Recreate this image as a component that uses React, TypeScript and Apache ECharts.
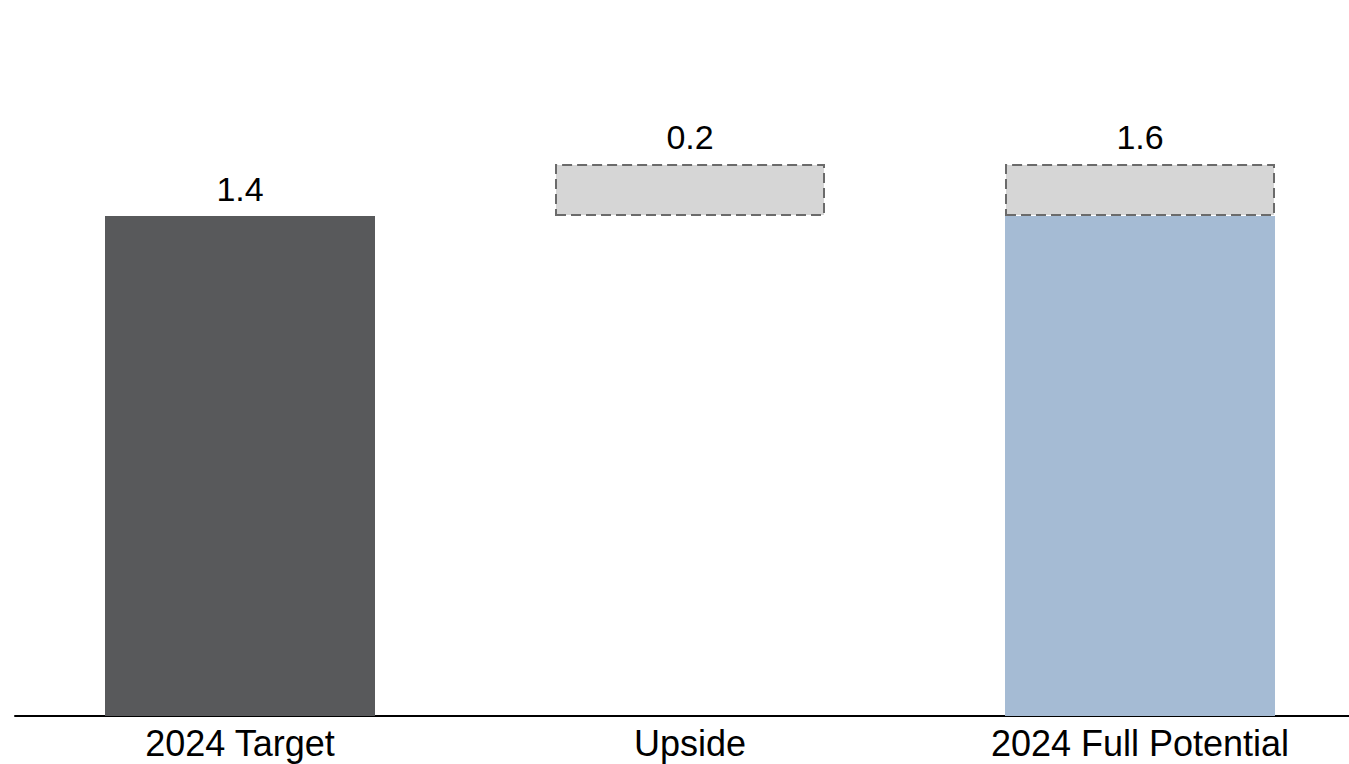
import React, { useEffect, useRef } from "react";
import * as echarts from "echarts";

const categories = ["2024 Target", "Upside", "2024 Full Potential"];
// base portion of each bar (Upside uses an invisible base)
const baseValues = [1.449, 1.449, 1.449];
// dashed upside portion
const upsideValues: (number | string)[] = ["-", 0.151, 0.151];
const baseColors = ["#58595b", "transparent", "#a5bbd4"];
const baseLabelShown = [true, false, false];

const FONT = "'Liberation Sans', Arial, Helvetica, sans-serif";

export default function App() {
  const ref = useRef<HTMLDivElement>(null);
  useEffect(() => {
    if (!ref.current) return;
    const chart = echarts.init(ref.current, undefined, { renderer: "svg" });
    chart.setOption({
      animation: false,
      backgroundColor: "#ffffff",
      grid: { left: 15, right: 0, top: 26, bottom: 48, containLabel: false },
      xAxis: {
        type: "category",
        data: categories,
        axisLine: { show: true, lineStyle: { color: "#000000", width: 2 } },
        axisTick: { show: false },
        axisLabel: {
          color: "#000000",
          fontSize: 36,
          fontFamily: FONT,
          margin: 9,
          interval: 0,
        },
      },
      yAxis: {
        type: "value",
        min: 0,
        max: 2,
        show: false,
        splitLine: { show: false },
      },
      series: [
        {
          type: "bar",
          stack: "total",
          barWidth: "60%",
          data: baseValues.map((v, i) => ({
            value: v,
            itemStyle: {
              color: baseColors[i],
            },
            label: {
              show: baseLabelShown[i],
            },
          })),
          label: {
            position: "top",
            distance: 10,
            color: "#000000",
            fontSize: 34,
            fontFamily: FONT,
            formatter: (p: any) => Number(p.value).toFixed(1),
          },
        },
        {
          type: "bar",
          stack: "total",
          barWidth: "60%",
          data: upsideValues,
          itemStyle: {
            color: "#d6d6d6",
            borderColor: "#6b6b6b",
            borderWidth: 2,
            borderType: [10, 5],
          },
          label: {
            show: true,
            position: "top",
            distance: 10,
            color: "#000000",
            fontSize: 34,
            fontFamily: FONT,
            formatter: (p: any) => {
              const i = p.dataIndex;
              const v = Number(upsideValues[i]);
              if (i === 1) return v.toFixed(1);
              return (baseValues[i] + v).toFixed(1);
            },
          },
        },
      ],
    });
    return () => chart.dispose();
  }, []);
  return (
    <div
      style={{
        position: "absolute",
        left: 0,
        top: 0,
        width: 1349,
        height: 764,
        overflow: "hidden",
        background: "#ffffff",
      }}
    >
      <div ref={ref} style={{ width: 1365, height: 764 }} />
    </div>
  );
}
